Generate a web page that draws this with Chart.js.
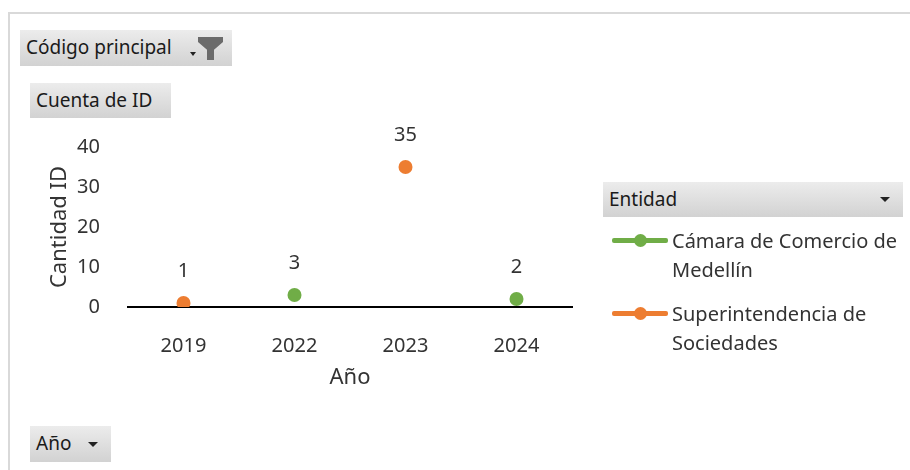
<!DOCTYPE html>
<html>
<head>
<meta charset="utf-8">
<script src="https://cdn.jsdelivr.net/npm/chart.js@4.4.1/dist/chart.umd.min.js"></script>
<style>
  html, body { margin: 0; padding: 0; background: #fff; }
  body { width: 910px; height: 470px; position: relative; overflow: hidden; font-family: "Noto Sans", sans-serif; }
  #frame { position: absolute; left: 8px; top: 12px; width: 940px; height: 500px;
           border-left: 2px solid #d9d9d9; border-top: 2px solid #d9d9d9; }
  #wrap { position: absolute; left: 0; top: 0; width: 910px; height: 470px; }
  .btn { position: absolute; box-sizing: border-box; background: linear-gradient(to bottom, #ececec, #d2d2d2);
         color: #1a1a1a; font-size: 19px; line-height: 35px; padding-left: 6px; white-space: nowrap; }
  .arrow { position: absolute; width: 0; height: 0; border-left: 5px solid transparent;
           border-right: 5px solid transparent; border-top: 5px solid #222; }
  .funnel { position: absolute; width: 25px; height: 23px; background: #6b6b6b;
            clip-path: polygon(0 0, 100% 0, 100% 22%, 64% 55%, 64% 100%, 36% 100%, 36% 55%, 0 22%); }
  #legend { position: absolute; left: 610px; top: 226px; width: 300px; }
  .item { position: relative; margin-bottom: 15px; }
  .sym { position: absolute; left: 2px; top: 12px; width: 56px; height: 5px; border-radius: 2px; }
  .sym i { position: absolute; left: 22px; top: -4px; width: 13px; height: 13px; border-radius: 50%; }
  .txt { margin-left: 62px; width: 236px; font-size: 20px; line-height: 29px; color: #333; }
</style>
</head>
<body>
<div id="frame"></div>
<div class="btn" style="left:20px;top:30px;width:212px;height:36px;">Código principal
  <span class="arrow" style="left:170px;top:22px;border-width:4px 3.5px 0 3.5px;"></span>
  <span class="funnel" style="left:178px;top:7px;"></span>
</div>
<div class="btn" style="left:30px;top:83px;width:141px;height:35px;">Cuenta de ID</div>
<div class="btn" style="left:603px;top:182px;width:300px;height:35px;">Entidad
  <span class="arrow" style="left:277px;top:15px;"></span>
</div>
<div class="btn" style="left:30px;top:426px;width:81px;height:36px;">Año
  <span class="arrow" style="left:58px;top:16px;"></span>
</div>
<div id="wrap"><canvas id="chart" width="910" height="470"></canvas></div>
<div id="legend"></div>
<script>
const years = ['2019', '2022', '2023', '2024'];
const seriesNames = ['Cámara de Comercio de Medellín', 'Superintendencia de Sociedades'];
const camaraValues = [null, 3, null, 2];
const superValues = [1, null, 35, null];
const seriesColors = ['#70AD47', '#ED7D31'];
const yTicks = [0, 10, 20, 30, 40];

const textColor = '#333';

// labels over each point, like excel data labels
const pointLabels = {
  id: 'pointLabels',
  afterDatasetsDraw(chart) {
    const ctx = chart.ctx;
    ctx.save();
    ctx.font = '20px "Noto Sans"';
    ctx.fillStyle = textColor;
    ctx.textAlign = 'center';
    ctx.textBaseline = 'middle';
    chart.data.datasets.forEach((ds, i) => {
      chart.getDatasetMeta(i).data.forEach((pt, j) => {
        if (ds.data[j] === null) return;
        ctx.fillText(String(ds.data[j]), pt.x, pt.y - 32);
      });
    });
    ctx.restore();
  }
};

new Chart(document.getElementById('chart'), {
  type: 'line',
  data: {
    labels: years,
    datasets: [
      {
        label: seriesNames[0],
        data: camaraValues,
        showLine: false,
        backgroundColor: seriesColors[0],
        borderColor: seriesColors[0],
        pointRadius: 7,
        pointHoverRadius: 7,
        pointBorderWidth: 0
      },
      {
        label: seriesNames[1],
        data: superValues,
        showLine: false,
        backgroundColor: seriesColors[1],
        borderColor: seriesColors[1],
        pointRadius: 7,
        pointHoverRadius: 7,
        pointBorderWidth: 0
      }
    ]
  },
  options: {
    responsive: false,
    animation: false,
    events: [],
    layout: { padding: { left: 40, right: 338, top: 147, bottom: 73 } },
    plugins: { legend: { display: false }, tooltip: { enabled: false } },
    scales: {
      x: {
        offset: true,
        grid: { display: false },
        border: { display: true, color: '#000', width: 2 },
        ticks: { color: textColor, font: { family: 'Noto Sans', size: 20 }, padding: 19 },
        title: { display: true, text: 'Año', color: textColor,
                 font: { family: 'Noto Sans', size: 22 }, padding: { top: 0, bottom: 6 } },
        afterFit(scale) { scale.height = 90; }
      },
      y: {
        min: yTicks[0],
        max: yTicks[yTicks.length - 1],
        grid: { display: false },
        border: { display: false },
        afterBuildTicks(scale) { scale.ticks = yTicks.map(v => ({ value: v })); },
        ticks: { color: textColor, font: { family: 'Noto Sans', size: 20 }, padding: 20 },
        title: { display: true, text: 'Cantidad ID', color: textColor,
                 font: { family: 'Noto Sans', size: 22 }, padding: { top: 7, bottom: 0 } },
        afterFit(scale) { scale.width = 88; }
      }
    }
  },
  plugins: [pointLabels]
});

// legend as html so the long names wrap like the original
const legend = document.getElementById('legend');
seriesNames.forEach((name, i) => {
  const item = document.createElement('div');
  item.className = 'item';
  item.innerHTML = '<div class="sym" style="background:' + seriesColors[i] + '"><i style="background:' +
    seriesColors[i] + '"></i></div><div class="txt">' + name + '</div>';
  legend.appendChild(item);
});
</script>
</body>
</html>
